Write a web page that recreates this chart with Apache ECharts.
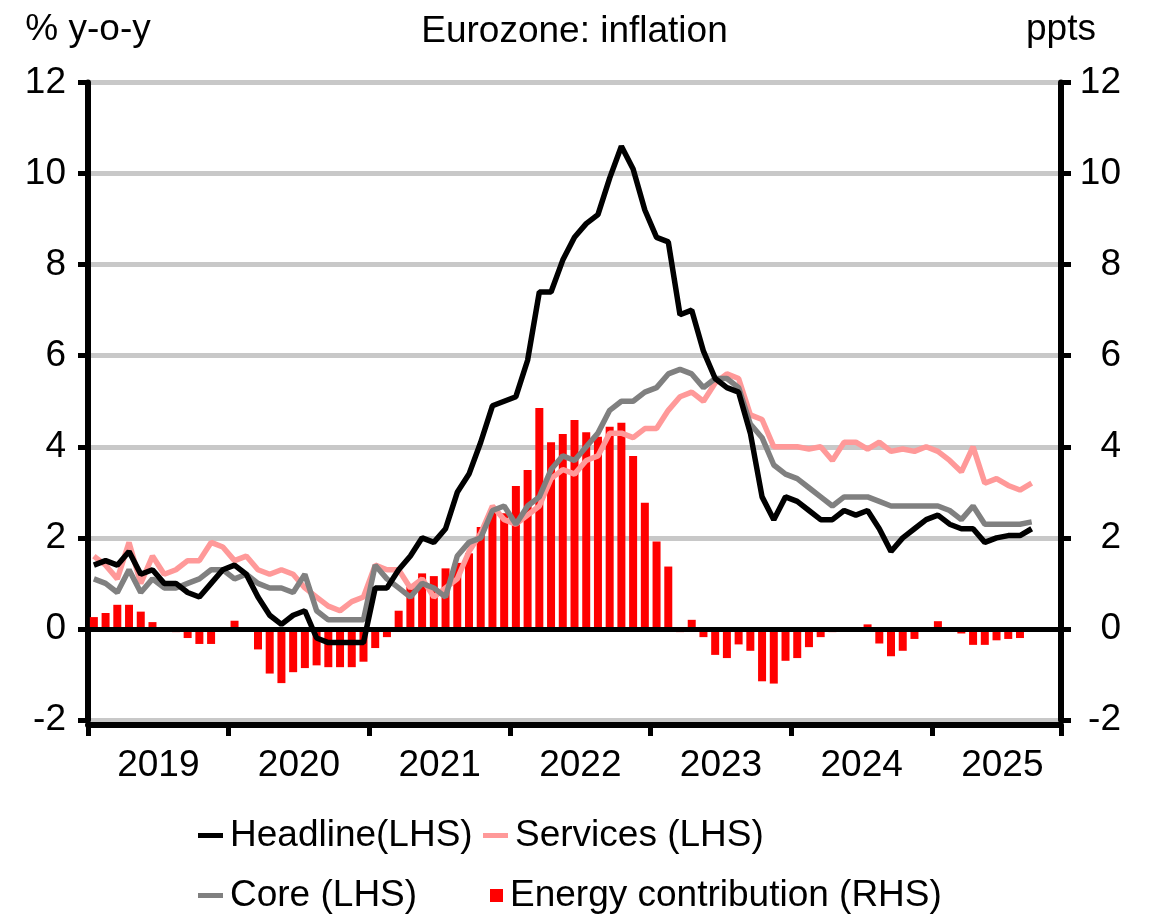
<!DOCTYPE html>
<html>
<head>
<meta charset="utf-8">
<script src="https://cdn.jsdelivr.net/npm/echarts@6/dist/echarts.min.js"></script>
<style>
  html, body { margin: 0; padding: 0; background: #fff; }
  #myEchart { width: 1149px; height: 921px; }
</style>
</head>
<body>
<div id="myEchart"></div>
<script>
var years = ['2019', '2020', '2021', '2022', '2023', '2024', '2025'];

// % y-o-y, Jan 2019 .. Sep 2025
var headline = [
    1.4, 1.5, 1.4, 1.7, 1.2, 1.3, 1.0, 1.0, 0.8, 0.7, 1.0, 1.3,
    1.4, 1.2, 0.7, 0.3, 0.1, 0.3, 0.4, -0.2, -0.3, -0.3, -0.3, -0.3,
    0.9, 0.9, 1.3, 1.6, 2.0, 1.9, 2.2, 3.0, 3.4, 4.1, 4.9, 5.0,
    5.1, 5.9, 7.4, 7.4, 8.1, 8.6, 8.9, 9.1, 9.9, 10.6, 10.1, 9.2,
    8.6, 8.5, 6.9, 7.0, 6.1, 5.5, 5.3, 5.2, 4.3, 2.9, 2.4, 2.9,
    2.8, 2.6, 2.4, 2.4, 2.6, 2.5, 2.6, 2.2, 1.7, 2.0, 2.2, 2.4,
    2.5, 2.3, 2.2, 2.2, 1.9, 2.0, 2.05, 2.05, 2.2
];
var services = [
    1.6, 1.4, 1.1, 1.9, 1.0, 1.6, 1.2, 1.3, 1.5, 1.5, 1.9, 1.8,
    1.5, 1.6, 1.3, 1.2, 1.3, 1.2, 0.9, 0.7, 0.5, 0.4, 0.6, 0.7,
    1.4, 1.3, 1.3, 0.9, 1.1, 0.7, 0.9, 1.1, 1.7, 2.1, 2.7, 2.4,
    2.3, 2.5, 2.7, 3.3, 3.5, 3.4, 3.7, 3.8, 4.3, 4.3, 4.2, 4.4,
    4.4, 4.8, 5.1, 5.2, 5.0, 5.4, 5.6, 5.5, 4.7, 4.6, 4.0, 4.0,
    4.0, 3.95, 4.0, 3.7, 4.1, 4.1, 3.95, 4.1, 3.9, 3.95, 3.9, 4.0,
    3.9, 3.7, 3.45, 4.0, 3.2, 3.3, 3.15, 3.05, 3.2
];
var core = [
    1.1, 1.0, 0.8, 1.3, 0.8, 1.1, 0.9, 0.9, 1.0, 1.1, 1.3, 1.3,
    1.1, 1.2, 1.0, 0.9, 0.9, 0.8, 1.2, 0.4, 0.2, 0.2, 0.2, 0.2,
    1.4, 1.1, 0.9, 0.7, 1.0, 0.9, 0.7, 1.6, 1.9, 2.0, 2.6, 2.7,
    2.3, 2.7, 2.9, 3.5, 3.8, 3.7, 4.0, 4.3, 4.8, 5.0, 5.0, 5.2,
    5.3, 5.6, 5.7, 5.6, 5.3, 5.5, 5.5, 5.3, 4.5, 4.2, 3.6, 3.4,
    3.3, 3.1, 2.9, 2.7, 2.9, 2.9, 2.9, 2.8, 2.7, 2.7, 2.7, 2.7,
    2.7, 2.6, 2.4, 2.7, 2.3, 2.3, 2.3, 2.3, 2.35
];
// ppts
var energy = [
    0.26, 0.35, 0.53, 0.53, 0.38, 0.15, 0.03, -0.07, -0.2, -0.33, -0.33, 0.02,
    0.18, -0.02, -0.45, -0.98, -1.19, -0.95, -0.86, -0.8, -0.84, -0.84, -0.84, -0.72,
    -0.42, -0.18, 0.4, 0.93, 1.22, 1.16, 1.33, 1.45, 1.66, 2.24, 2.57, 2.54,
    3.14, 3.49, 4.85, 4.1, 4.28, 4.59, 4.32, 4.22, 4.44, 4.53, 3.8, 2.77,
    1.92, 1.37, -0.07, 0.2, -0.18, -0.57, -0.64, -0.34, -0.48, -1.15, -1.2, -0.7,
    -0.64, -0.4, -0.18, -0.07, -0.02, -0.02, 0.1, -0.32, -0.6, -0.48, -0.22, -0.02,
    0.17, -0.02, -0.1, -0.35, -0.35, -0.25, -0.22, -0.2, -0.03
];

var FONT = "'Liberation Sans Narrow', 'Arial Narrow', 'Liberation Sans', Arial, sans-serif";
var FS = 37;

// axis runs Jan 2019 .. Nov 2025
var months = [];
for (var y = 0; y < years.length; y++) {
    for (var m = 1; m <= 12; m++) {
        if (months.length < 83) months.push(years[y] + '-' + m);
    }
}

function yAx(pos, name, margin) {
    return {
        type: 'value', position: pos, min: -2, max: 12, interval: 2,
        name: name, nameLocation: 'end', nameGap: 34,
        nameTextStyle: { fontSize: FS, color: '#000', fontFamily: FONT, align: 'center' },
        axisLine: { show: true, lineStyle: { color: '#000', width: 6 } },
        axisTick: { show: true, length: 10, lineStyle: { color: '#000', width: 5 } },
        axisLabel: { fontSize: FS, color: '#000', fontFamily: FONT, margin: margin, align: 'right' },
        splitLine: { show: pos == 'left', lineStyle: { color: '#c8c8c8', width: 5 } }
    };
}

function leg(name, left, top, w, h) {
    return {
        data: [name], left: left, top: top, padding: 0, itemWidth: w, itemHeight: h,
        icon: 'rect', itemGap: 0,
        textStyle: { fontSize: FS, color: '#000', fontFamily: FONT, padding: [0, 0, 0, 2] }
    };
}

var myChart = echarts.init(document.getElementById('myEchart'));
myChart.setOption({
    animation: false,
    title: {
        text: 'Eurozone: inflation', left: 'center', top: 8,
        textStyle: { fontSize: FS, fontWeight: 'normal', color: '#000', fontFamily: FONT }
    },
    grid: { left: 88, right: 88, top: 82.5, bottom: 201 },
    legend: [
        leg('Headline(LHS)', 198, 817, 25, 5),
        leg('Services (LHS)', 483, 817, 25, 5),
        leg('Core (LHS)', 198, 877, 25, 5),
        leg('Energy contribution (RHS)', 490, 877, 13, 13)
    ],
    xAxis: {
        type: 'category', data: months, boundaryGap: true, offset: 5,
        axisLine: { onZero: false, lineStyle: { color: '#000', width: 6 } },
        axisTick: {
            show: true, length: 11,
            interval: function(i) { return i % 12 === 0; },
            lineStyle: { color: '#000', width: 5 }
        },
        axisLabel: {
            interval: function(i) { return i % 12 === 5; },
            formatter: function(v) { return v.slice(0, 4); },
            padding: [0, 0, 0, 11.7],
            fontSize: FS, color: '#000', fontFamily: FONT, margin: 22
        },
        splitLine: { show: false }
    },
    yAxis: [
        yAx('left', '% y-o-y', 22),
        yAx('right', 'ppts', 60)
    ],
    series: [{
        name: 'Energy contribution (RHS)', type: 'bar', yAxisIndex: 1,
        data: energy, barWidth: 8, itemStyle: { color: '#ff0000' },
        markLine: {
            silent: true, symbol: ['none', 'none'], label: { show: false },
            lineStyle: { color: '#000', width: 5, type: 'solid' },
            data: [{ yAxis: 0 }]
        }
    }, {
        name: 'Services (LHS)', type: 'line', data: services, showSymbol: false,
        itemStyle: { color: '#ff9999' }, lineStyle: { color: '#ff9999', width: 5.5 }
    }, {
        name: 'Core (LHS)', type: 'line', data: core, showSymbol: false,
        itemStyle: { color: '#808080' }, lineStyle: { color: '#808080', width: 5.5 }
    }, {
        name: 'Headline(LHS)', type: 'line', data: headline, showSymbol: false,
        itemStyle: { color: '#000' }, lineStyle: { color: '#000', width: 5.5 }
    }]
});
</script>
</body>
</html>
